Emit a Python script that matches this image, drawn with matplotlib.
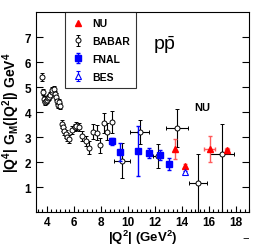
import numpy as np
import matplotlib
matplotlib.use("Agg")
import matplotlib.pyplot as plt
from matplotlib.ticker import MultipleLocator
from matplotlib.lines import Line2D

plt.rcParams["font.family"] = ["Liberation Sans", "DejaVu Sans"]
plt.rcParams["mathtext.fontset"] = "custom"
plt.rcParams["mathtext.rm"] = "Liberation Sans"
plt.rcParams["mathtext.bf"] = "Liberation Sans:bold"
plt.rcParams["mathtext.it"] = "Liberation Sans:italic"

# ---------------- data ----------------
babar_q2 = [3.61, 3.68, 3.78, 3.85, 3.93, 4.02, 4.10, 4.17, 4.27, 4.35, 4.42, 4.52,
            4.59, 4.68, 4.76, 4.84, 4.91, 5.01, 5.13, 5.21, 5.28, 5.39, 5.50, 5.63,
            5.90, 6.07, 6.20, 6.37, 6.64, 6.89, 7.16, 7.43, 7.70, 7.98, 8.24, 8.50,
            8.84, 9.58, 10.89, 12.24, 13.65, 15.21, 16.99]
babar_ff = [5.41, 4.79, 4.52, 4.39, 4.45, 4.50, 4.55, 4.60, 4.68, 4.79, 4.88, 4.93,
            4.72, 4.62, 4.45, 4.30, 4.40, 4.25, 3.52, 3.39, 3.25, 3.12, 3.00, 2.92,
            3.28, 3.39, 3.45, 3.40, 3.03, 2.85, 2.58, 3.22, 3.18, 2.68, 3.58, 3.22,
            3.61, 2.05, 3.21, 2.25, 3.37, 1.15, 2.32]
babar_err_lo = [0.15, 0.12, 0.12, 0.12, 0.12, 0.12, 0.12, 0.12, 0.12, 0.12, 0.13, 0.13,
                0.13, 0.13, 0.13, 0.13, 0.13, 0.13, 0.15, 0.15, 0.15, 0.15, 0.15, 0.15,
                0.15, 0.15, 0.15, 0.15, 0.20, 0.20, 0.25, 0.30, 0.30, 0.30, 0.40, 0.35,
                0.45, 0.70, 0.48, 0.47, 0.75, 1.30, 2.40]
babar_err_hi = [0.15, 0.12, 0.12, 0.12, 0.12, 0.12, 0.12, 0.12, 0.12, 0.12, 0.13, 0.13,
                0.13, 0.13, 0.13, 0.13, 0.13, 0.13, 0.15, 0.15, 0.15, 0.15, 0.15, 0.15,
                0.15, 0.15, 0.15, 0.15, 0.20, 0.20, 0.25, 0.30, 0.30, 0.30, 0.40, 0.35,
                0.45, 0.70, 0.48, 0.47, 0.75, 1.17, 1.20]
babar_xerr = [0] * 37 + [0.58, 0.70, 0.35, 0.80, 0.67, 0.90]

fnal_q2 = [8.84, 9.41, 10.76, 11.60, 12.42, 13.06]
fnal_ff = [2.83, 2.41, 2.43, 2.36, 2.29, 1.92]
fnal_err = [0.15, 0.35, 1.00, 0.20, 0.20, 0.25]

nu_q2 = [13.48, 14.22, 16.07, 17.38]
nu_ff = [2.52, 1.85, 2.52, 2.48]
nu_err = [0.40, 0.06, 0.53, 0.10]
nu_xerr = [0.0, 0.0, 0.40, 0.15]

bes_q2 = [14.22]
bes_ff = [1.61]
bes_err = [0.05]

# ---------------- figure ----------------
fig = plt.figure(figsize=(2.63, 2.51), dpi=100)
ax = fig.add_axes([0.137, 0.151, 0.810, 0.797])

ax.errorbar(nu_q2, nu_ff, yerr=nu_err, xerr=nu_xerr, fmt="^", color="red",
            ecolor="#ff5a5a", markersize=4.5, elinewidth=1.0, capsize=1.5, zorder=4)
ax.errorbar(babar_q2, babar_ff, yerr=[babar_err_lo, babar_err_hi], xerr=babar_xerr,
            fmt="o", color="black", mfc="white", mec="black", markersize=3.6,
            elinewidth=0.8, capsize=1.2, mew=0.7, zorder=3)
ax.errorbar(fnal_q2, fnal_ff, yerr=fnal_err, fmt="s", color="blue",
            markersize=4, elinewidth=1.0, capsize=1.5, zorder=4)
ax.errorbar(bes_q2, bes_ff, yerr=bes_err, fmt="^", color="blue", mfc="white",
            mec="blue", markersize=4.5, elinewidth=0.8, capsize=1.2, mew=0.8, zorder=4)

# legend proxies (vertical bars only, like the reference)
h_nu = Line2D([], [], marker="^", color="red", ls="none", markersize=5)
h_babar = ax.errorbar([np.nan], [np.nan], yerr=[1], fmt="o", color="black", mfc="white",
                      markersize=3.6, elinewidth=0.8, capsize=1.2, mew=0.7)
h_fnal = ax.errorbar([np.nan], [np.nan], yerr=[1], fmt="s", color="blue",
                     markersize=4, elinewidth=1.0, capsize=1.5)
h_bes = ax.errorbar([np.nan], [np.nan], yerr=[1], fmt="^", color="blue", mfc="white",
                    mec="blue", markersize=4.5, elinewidth=0.8, capsize=1.2, mew=0.8)

ax.set_xlim(3.2, 19.0)
ax.set_ylim(0, 8)
ax.xaxis.set_major_locator(MultipleLocator(2))
ax.xaxis.set_minor_locator(MultipleLocator(1 / 3))
ax.set_yticks([1, 2, 3, 4, 5, 6, 7])
ax.tick_params(axis="both", which="both", direction="in", top=False, right=True,
               labelsize=8.5, width=0.8)
ax.tick_params(axis="y", which="major", length=5)
ax.tick_params(axis="x", which="major", length=4, pad=3)
ax.tick_params(axis="x", which="minor", length=2)
for lbl in ax.get_xticklabels() + ax.get_yticklabels():
    lbl.set_fontweight("bold")
for s in ax.spines.values():
    s.set_linewidth(0.8)

ax.set_xlabel(r"$\mathbf{|Q^2|\ (GeV^2)}$", fontsize=9.5, labelpad=0)
ax.set_ylabel(r"$\mathbf{|Q^4|\ G_M(|Q^2|)\ GeV^4}$", fontsize=10, labelpad=2)

ax.text(12.74, 6.72, r"$\mathrm{p\bar{p}}$", fontsize=14, ha="center", va="center")
ax.text(15.56, 4.2, "NU", fontsize=8, fontweight="bold", ha="center", va="center")

leg = ax.legend(handles=[h_nu, h_babar, h_fnal, h_bes], labels=["NU", "BABAR", "FNAL", "BES"],
                loc="upper left", bbox_to_anchor=(0.136, 1.0), fontsize=7.5, frameon=True,
                fancybox=False, edgecolor="black", borderpad=0.6, labelspacing=0.75,
                handlelength=1.2, handletextpad=0.8, borderaxespad=0)
leg.get_frame().set_linewidth(0.8)
for t in leg.get_texts():
    t.set_fontweight("bold")

fig.text(246 / 263, 1 - 238 / 251, "\u2212", fontsize=8, ha="center", va="center")

fig.savefig("out.png", dpi=100)
